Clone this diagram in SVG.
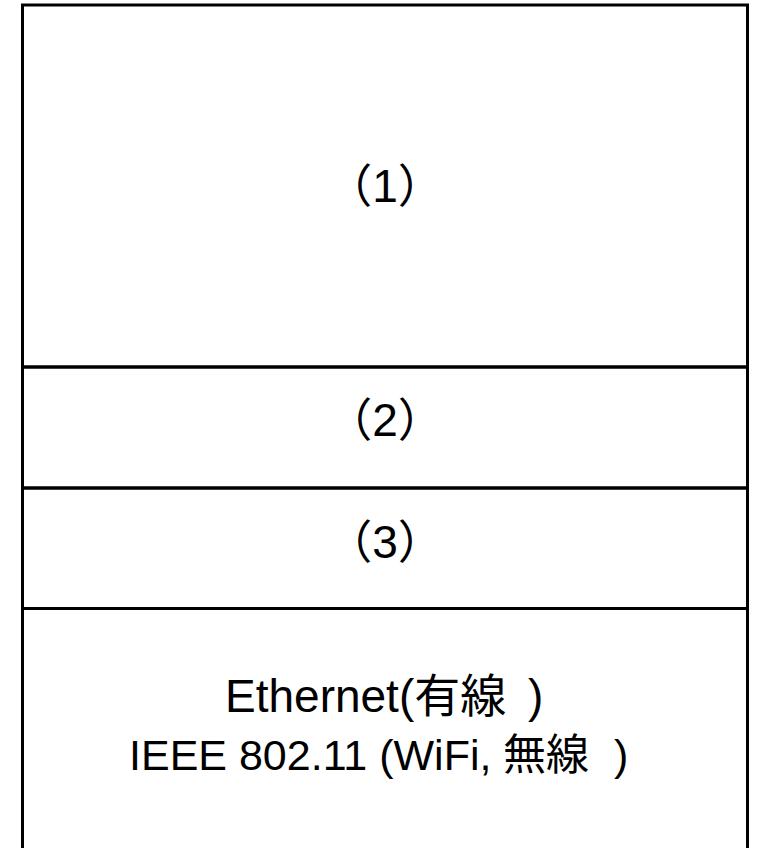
<svg xmlns="http://www.w3.org/2000/svg" width="759" height="848" viewBox="0 0 759 848">
<style>
.layer{fill:none;stroke:#000;stroke-width:3}
.t{font-family:"Liberation Sans","Noto Sans CJK JP",sans-serif;font-size:43px;fill:#000}
.c{text-anchor:middle}
.n{font-size:46px}
</style>
<rect width="759" height="848" fill="#fff"/>
<g id="layer1">
<rect class="layer" x="22.5" y="5" width="725" height="362"/>
<text class="t c n" x="385" y="202">（1）</text>
</g>
<g id="layer2">
<rect class="layer" x="22.5" y="367" width="725" height="121"/>
<text class="t c n" x="385" y="436">（2）</text>
</g>
<g id="layer3">
<rect class="layer" x="22.5" y="488" width="725" height="120.5"/>
<text class="t c n" x="385" y="558">（3）</text>
</g>
<g id="layer4">
<rect class="layer" x="22.5" y="608.5" width="725" height="260"/>
<text class="t n" x="225" y="712">Ethernet(有線<tspan x="528">)</tspan></text>
<text class="t" x="129" y="770">IEEE 802.11 (WiFi,<tspan x="503">無線</tspan><tspan x="614">)</tspan></text>
</g>
<g id="connectors"/>
</svg>
